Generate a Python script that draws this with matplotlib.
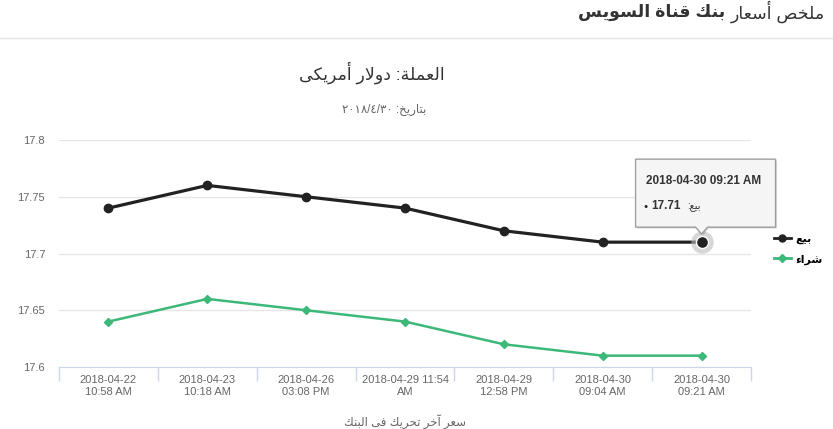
import re
import matplotlib
matplotlib.use('Agg')
import matplotlib.pyplot as plt
import matplotlib.patches as mpatches
import matplotlib.transforms as mtransforms
from matplotlib.lines import Line2D

# simple arabic shaping (matplotlib has no bidi / joining)
FORMS = {
    'ء': (0xFE80, 1),
    'آ': (0xFE81, 2), 'أ': (0xFE83, 2), 'ا': (0xFE8D, 2), 'ة': (0xFE93, 2),
    'د': (0xFEA9, 2), 'ر': (0xFEAD, 2), 'و': (0xFEED, 2), 'ى': (0xFEEF, 2),
    'ب': (0xFE8F, 4), 'ت': (0xFE95, 4), 'ح': (0xFEA1, 4), 'خ': (0xFEA5, 4),
    'س': (0xFEB1, 4), 'ش': (0xFEB5, 4), 'ص': (0xFEB9, 4), 'ع': (0xFEC9, 4),
    'ف': (0xFED1, 4), 'ق': (0xFED5, 4), 'ك': (0xFED9, 4), 'ل': (0xFEDD, 4),
    'م': (0xFEE1, 4), 'ن': (0xFEE5, 4), 'ي': (0xFEF1, 4),
}
LAM_ALEF = {'ا': 0xFEFB, 'أ': 0xFEF7, 'آ': 0xFEF5}


def shape(s):
    units = []
    i = 0
    while i < len(s):
        if s[i] == 'ل' and i + 1 < len(s) and s[i + 1] in LAM_ALEF:
            units.append(('LA', s[i + 1]))
            i += 2
        else:
            units.append(s[i])
            i += 1

    def nforms(u):
        if isinstance(u, tuple):
            return 2
        return FORMS.get(u, (0, 0))[1]

    out = []
    for k, u in enumerate(units):
        prev = units[k - 1] if k > 0 else None
        nxt = units[k + 1] if k + 1 < len(units) else None
        jp = prev is not None and nforms(prev) == 4 and nforms(u) >= 2
        jn = nforms(u) == 4 and nxt is not None and nforms(nxt) >= 2
        if isinstance(u, tuple):
            out.append(chr(LAM_ALEF[u[1]] + (1 if jp else 0)))
        elif u in FORMS:
            base = FORMS[u][0]
            idx = 3 if (jp and jn) else 1 if jp else 2 if jn else 0
            out.append(chr(base + idx))
        else:
            out.append(u)
    return ''.join(out)


def ar(s):
    v = shape(s)[::-1]
    # numbers stay left-to-right
    return re.sub(r'[0-9٠-٩][0-9٠-٩/.]*', lambda m: m.group(0)[::-1], v)


# data
dates = ['2018-04-22\n10:58 AM', '2018-04-23\n10:18 AM', '2018-04-26\n03:08 PM',
         '2018-04-29 11:54\nAM', '2018-04-29\n12:58 PM', '2018-04-30\n09:04 AM',
         '2018-04-30\n09:21 AM']
sell = [17.74, 17.76, 17.75, 17.74, 17.72, 17.71, 17.71]
buy = [17.64, 17.66, 17.65, 17.64, 17.62, 17.61, 17.61]
yticks = [17.6, 17.65, 17.7, 17.75, 17.8]
ytick_labels = ['17.6', '17.65', '17.7', '17.75', '17.8']

header_bold = 'بنك قناة السويس'
header_reg = 'ملخص أسعار'
title = 'العملة: دولار أمريكى'
subtitle = 'بتاريخ: ٢٠١٨/٤/٣٠'
xtitle = 'سعر آخر تحريك فى البنك'
sell_name = 'بيع'
buy_name = 'شراء'
tip_date = '2018-04-30 09:21 AM'

plt.rcParams['font.family'] = ['Liberation Sans', 'DejaVu Sans']

W, H = 833, 429
fig = plt.figure(figsize=(W / 100, H / 100), dpi=100)
ax = fig.add_axes([59 / W, 1 - 367 / H, 692 / W, 227 / H])

x = list(range(len(dates)))
ax.plot(x, sell, color='#222222', lw=2.3, marker='o', ms=6, zorder=4)
ax.plot(x, buy, color='#3cb878', lw=1.8, marker='D', ms=4.5, zorder=4)

# hover marker on the last sell point
ax.scatter([x[-1]], [sell[-1]], s=260, color='#bbbbbb', alpha=0.6, zorder=5, lw=0)
ax.scatter([x[-1]], [sell[-1]], s=75, color='#222222', edgecolor='white', lw=1, zorder=6)

ax.set_xlim(-0.5, len(dates) - 0.5)
ax.set_ylim(17.6, 17.8)
ax.set_yticks(yticks)
ax.set_yticklabels(ytick_labels)
ax.grid(axis='y', color='#e6e6e6', lw=1)
ax.set_axisbelow(True)
ax.tick_params(axis='y', length=0, pad=10, labelsize=8, labelcolor='#666666')

ax.set_xticks([i - 0.5 for i in range(len(dates) + 1)])
ax.set_xticklabels([])
ax.set_xticks(x, minor=True)
ax.set_xticklabels(dates, minor=True, fontsize=8, color='#666666')
ax.tick_params(axis='x', which='major', length=10, color='#ccd6eb', width=1)
ax.tick_params(axis='x', which='minor', length=0, pad=6)

for side in ['top', 'right', 'left']:
    ax.spines[side].set_visible(False)
ax.spines['bottom'].set_color('#ccd6eb')

# titles
fig.text(372 / W, 1 - 73 / H, ar(title), ha='center', va='center', fontsize=12.5, color='#333333')
fig.text(384 / W, 1 - 110 / H, ar(subtitle), ha='center', va='center', fontsize=8.5, color='#666666')
fig.text(405 / W, 1 - 422 / H, ar(xtitle), ha='center', va='center', fontsize=8.5, color='#666666')

# page header: bold part first, regular part right after it
hb = fig.text(578 / W, 1 - 12 / H, ar(header_bold), ha='left', va='center', fontsize=12.5,
              fontweight='bold', color='#333333')
fig.canvas.draw()
bx1 = hb.get_window_extent().x1
fig.text((bx1 + 5) / W, 1 - 12 / H, ar(header_reg), ha='left', va='center', fontsize=12.5,
         color='#333333')
fig.add_artist(Line2D([0, 1], [1 - 38 / H, 1 - 38 / H], transform=fig.transFigure,
                      color='#e5e5e5', lw=1))

# legend
handles = [Line2D([], [], color='#222222', lw=2, marker='o', ms=5),
           Line2D([], [], color='#3cb878', lw=2, marker='D', ms=4)]
fig.legend(handles, [ar(sell_name), ar(buy_name)], loc='center left',
           bbox_to_anchor=(764 / W, 1 - 249 / H), frameon=False, handlelength=1.5,
           handletextpad=0.4, labelspacing=0.95, prop={'weight': 'bold', 'size': 8})

# tooltip anchored on the hovered point
px, py = ax.transData.transform((x[-1], sell[-1]))
left, right, bottom, top = px - 66, px + 74, py + 15, py + 83
verts = [(left, bottom), (px - 6, bottom), (px, bottom - 7), (px + 6, bottom),
         (right, bottom), (right, top), (left, top)]
ident = mtransforms.IdentityTransform()
shadow = mpatches.Polygon([(vx + 1.5, vy - 1.5) for vx, vy in verts], closed=True,
                          transform=ident, facecolor='#000000', alpha=0.12, lw=0, zorder=9)
box = mpatches.Polygon(verts, closed=True, transform=ident, facecolor='#f7f7f7',
                       edgecolor='#999999', lw=1, alpha=0.95, zorder=10)
fig.add_artist(shadow)
fig.add_artist(box)
fig.text((px + 2) / W, (py + 61) / H, tip_date, ha='center', va='center', fontsize=8.5,
         fontweight='bold', color='#333333', zorder=11)
fig.text((left + 8) / W, (py + 36) / H, '●', ha='left', va='center', fontsize=5,
         color='#222222', zorder=11)
fig.text((left + 16) / W, (py + 36) / H, '17.71', ha='left', va='center', fontsize=8.5,
         fontweight='bold', color='#333333', zorder=11)
fig.text((left + 52) / W, (py + 36) / H, ar(sell_name + ':'), ha='left', va='center',
         fontsize=7, color='#333333', zorder=11)

fig.savefig('out.png', dpi=100)
